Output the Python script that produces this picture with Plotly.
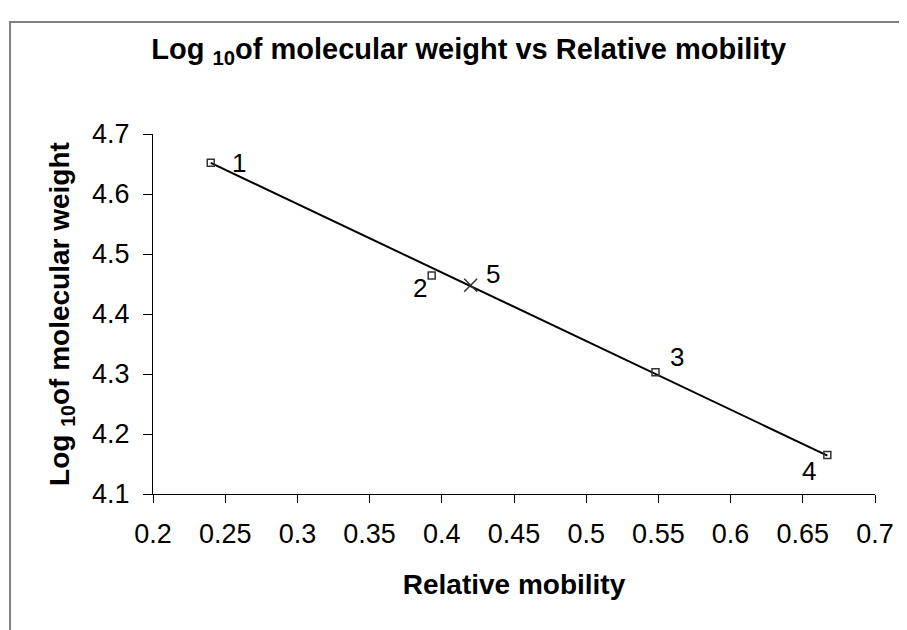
import plotly.graph_objects as go

# data
mobility = [0.24, 0.393, 0.548, 0.667]
logmw = [4.652, 4.464, 4.303, 4.165]
point_labels = ["1", "2", "3", "4"]
unknown_x = [0.42]
unknown_y = [4.448]
unknown_label = ["5"]
trend_x = [0.24, 0.667]
trend_y = [4.652, 4.164]
x_ticks = [0.2, 0.25, 0.3, 0.35, 0.4, 0.45, 0.5, 0.55, 0.6, 0.65, 0.7]
x_tick_text = ["0.2", "0.25", "0.3", "0.35", "0.4", "0.45", "0.5", "0.55", "0.6", "0.65", "0.7"]
y_ticks = [4.1, 4.2, 4.3, 4.4, 4.5, 4.6, 4.7]

FONT = "Liberation Sans, Arial, sans-serif"

fig = go.Figure()
fig.add_trace(go.Scatter(x=trend_x, y=trend_y, mode="lines",
                         line=dict(color="black", width=2), hoverinfo="skip"))
fig.add_trace(go.Scatter(x=mobility, y=logmw, mode="markers",
                         marker=dict(symbol="square-open", size=7, color="#333333",
                                     line=dict(width=1.5, color="#333333"))))
fig.add_trace(go.Scatter(x=unknown_x, y=unknown_y, mode="markers",
                         marker=dict(symbol="x-thin-open", size=13, color="#333333",
                                     line=dict(width=1.5, color="#333333"))))

# point labels
offsets = [(28, 0), (-12, -12), (21, 15), (-18, -16)]
for xv, yv, t, (dx, dy) in zip(mobility, logmw, point_labels, offsets):
    fig.add_annotation(x=xv, y=yv, text=t, showarrow=False, xshift=dx, yshift=dy,
                       font=dict(family=FONT, size=26, color="black"))
for xv, yv, t in zip(unknown_x, unknown_y, unknown_label):
    fig.add_annotation(x=xv, y=yv, text=t, showarrow=False, xshift=22, yshift=11,
                       font=dict(family=FONT, size=26, color="black"))

# outer chart border (left and top visible)
fig.add_shape(type="rect", xref="paper", yref="paper", x0=-0.198, x1=1.6, y0=-1.0, y1=1.311,
              line=dict(color="#7f7f7f", width=2), layer="below")

fig.update_layout(
    width=907, height=630,
    margin=dict(l=145, r=40, t=126, b=144),
    plot_bgcolor="white", paper_bgcolor="white",
    showlegend=False,
    title=dict(text="<b>Log <sub>10</sub>of molecular weight vs Relative mobility</b>",
               x=0.508, xanchor="center", y=1 - 41 / 630, yanchor="middle",
               xref="container", yref="container",
               font=dict(family=FONT, size=29, color="black")),
    xaxis=dict(range=[0.2, 0.7], tickvals=x_ticks, ticktext=x_tick_text,
               showgrid=False, zeroline=False, showline=True, linecolor="black", linewidth=1,
               ticks="outside", ticklen=8, tickcolor="black", ticklabelstandoff=8,
               tickfont=dict(family=FONT, size=27, color="black"),
               title=dict(text="<b>Relative mobility</b>", standoff=25,
                          font=dict(family=FONT, size=28, color="black"))),
    yaxis=dict(range=[4.1, 4.7], tickvals=y_ticks, tickformat=".1f",
               showgrid=False, zeroline=False, showline=True, linecolor="black", linewidth=1,
               ticks="outside", ticklen=9, tickcolor="black", ticklabelstandoff=8,
               tickfont=dict(family=FONT, size=27, color="black"),
               title=dict(text="<b>Log <sub>10</sub>of molecular weight</b>", standoff=14,
                          font=dict(family=FONT, size=28, color="black"))),
)

fig.write_html("out.html")
